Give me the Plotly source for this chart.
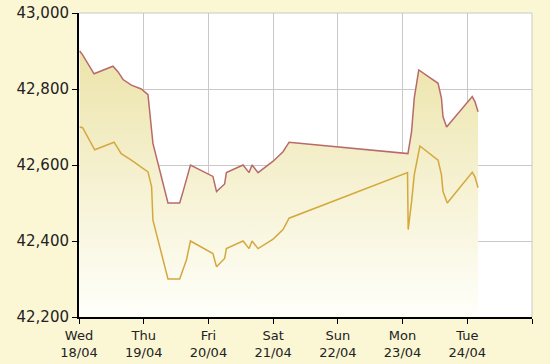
import plotly.graph_objects as go

# Sell (upper) series
sell_time = ["2018-04-18 00:15", "2018-04-18 01:20", "2018-04-18 05:35", "2018-04-18 12:35",
             "2018-04-18 14:30", "2018-04-18 16:20", "2018-04-18 19:25", "2018-04-18 23:05",
             "2018-04-19 01:35", "2018-04-19 03:25", "2018-04-19 09:00", "2018-04-19 13:20",
             "2018-04-19 14:35", "2018-04-19 17:20", "2018-04-20 01:40", "2018-04-20 03:00",
             "2018-04-20 06:00", "2018-04-20 06:40", "2018-04-20 12:50", "2018-04-20 15:05",
             "2018-04-20 16:10", "2018-04-20 18:25", "2018-04-21 00:00", "2018-04-21 03:40",
             "2018-04-21 05:55", "2018-04-23 02:00", "2018-04-23 03:20", "2018-04-23 04:20",
             "2018-04-23 06:00", "2018-04-23 13:10", "2018-04-23 14:25", "2018-04-23 15:00",
             "2018-04-23 16:20", "2018-04-24 01:50", "2018-04-24 02:50", "2018-04-24 04:00"]
sell_value = [42900, 42890, 42840, 42860, 42845, 42825, 42810, 42800,
              42785, 42657, 42500, 42500, 42530, 42600, 42570, 42530,
              42550, 42580, 42600, 42580, 42600, 42580, 42610, 42635,
              42660, 42630, 42688, 42776, 42850, 42815, 42776, 42727,
              42700, 42780, 42767, 42740]

# Buy (lower) series
buy_time = ["2018-04-18 00:15", "2018-04-18 01:20", "2018-04-18 05:50", "2018-04-18 13:00",
            "2018-04-18 15:40", "2018-04-18 19:25", "2018-04-19 01:35", "2018-04-19 02:55",
            "2018-04-19 03:25", "2018-04-19 05:55", "2018-04-19 09:00", "2018-04-19 13:20",
            "2018-04-19 15:50", "2018-04-19 17:20", "2018-04-20 01:05", "2018-04-20 01:40",
            "2018-04-20 03:00", "2018-04-20 06:00", "2018-04-20 06:40", "2018-04-20 12:50",
            "2018-04-20 15:05", "2018-04-20 16:10", "2018-04-20 18:25", "2018-04-21 00:00",
            "2018-04-21 03:40", "2018-04-21 05:55", "2018-04-23 01:50", "2018-04-23 02:05",
            "2018-04-23 03:20", "2018-04-23 04:20", "2018-04-23 06:25", "2018-04-23 13:10",
            "2018-04-23 14:25", "2018-04-23 15:00", "2018-04-23 16:35", "2018-04-24 01:50",
            "2018-04-24 02:50", "2018-04-24 04:00"]
buy_value = [42700, 42698, 42640, 42660, 42630, 42613, 42582, 42543,
             42455, 42385, 42300, 42300, 42350, 42400, 42371, 42367,
             42332, 42354, 42380, 42400, 42380, 42400, 42380, 42405,
             42430, 42460, 42580, 42430, 42503, 42574, 42650, 42613,
             42574, 42530, 42500, 42581, 42569, 42540]

tick_dates = ["2018-04-18", "2018-04-19", "2018-04-20", "2018-04-21",
              "2018-04-22", "2018-04-23", "2018-04-24", "2018-04-25"]
tick_labels = ["Wed<br>18/04", "Thu<br>19/04", "Fri<br>20/04", "Sat<br>21/04",
               "Sun<br>22/04", "Mon<br>23/04", "Tue<br>24/04", ""]
y_ticks = [42200, 42400, 42600, 42800, 43000]

fig = go.Figure()
fig.add_trace(go.Scatter(
    x=sell_time, y=sell_value, mode="lines",
    line=dict(color="#B86A6A", width=1.5),
    fill="tozeroy",
    fillgradient=dict(type="vertical", start=42200, stop=42900,
                      colorscale=[[0, "rgba(255,255,250,1)"], [1, "#ECE4AA"]]),
    showlegend=False, hoverinfo="skip"))
fig.add_trace(go.Scatter(
    x=buy_time, y=buy_value, mode="lines",
    line=dict(color="#D4A83E", width=1.5),
    showlegend=False, hoverinfo="skip"))

fig.update_layout(
    width=550, height=364,
    margin=dict(l=79, r=18, t=13, b=47, autoexpand=False),
    paper_bgcolor="#FBF7D5",
    plot_bgcolor="#FFFFFF",
    font=dict(family="DejaVu Sans", color="#222222"),
)
fig.update_xaxes(
    type="date", range=["2018-04-18", "2018-04-25"],
    tickvals=tick_dates, ticktext=tick_labels,
    showgrid=True, gridcolor="#C8C8C8", gridwidth=1,
    showline=True, linecolor="#000000", linewidth=2,
    ticks="outside", ticklen=5, tickcolor="#000000", tickwidth=1,
    tickfont=dict(size=13), zeroline=False, automargin=False,
)
fig.update_yaxes(
    range=[42200, 43000], tickvals=y_ticks, tickformat=",",
    showgrid=True, gridcolor="#C8C8C8", gridwidth=1,
    showline=True, linecolor="#000000", linewidth=2,
    ticks="outside", ticklen=5, tickcolor="#000000", tickwidth=1,
    tickfont=dict(size=15), zeroline=False, automargin=False,
)
fig.add_shape(type="line", xref="paper", yref="paper", x0=0, x1=1, y0=1, y1=1,
              line=dict(color="#C8C8C8", width=1))
fig.add_shape(type="line", xref="paper", yref="paper", x0=1, x1=1, y0=0, y1=1,
              line=dict(color="#C8C8C8", width=1))

fig.write_html("out.html")
